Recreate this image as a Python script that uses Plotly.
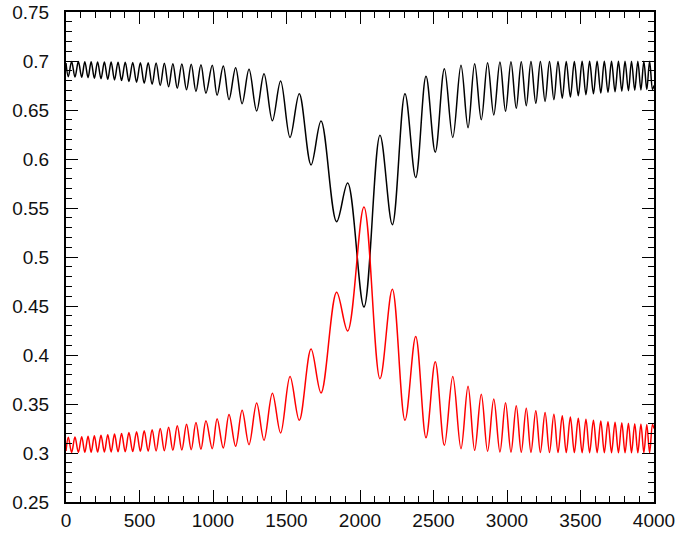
import plotly.graph_objects as go

# x positions of the extrema (alternating red-peak / red-trough)
x_ext = [0, 16, 38, 61, 84, 107, 128, 150, 171, 193, 215, 238, 261, 284, 307, 330, 354, 378, 403, 428,
         454, 480, 506, 532, 559, 586, 613, 641, 669, 698, 727, 757, 788, 820, 852, 884, 918, 952, 995, 1028,
         1070, 1109, 1154, 1198, 1245, 1297, 1347, 1404, 1460, 1524, 1587, 1667, 1735, 1841, 1916, 2027, 2136, 2220, 2306, 2379,
         2449, 2512, 2574, 2631, 2687, 2735, 2780, 2825, 2868, 2910, 2952, 2990, 3027, 3063, 3097, 3131, 3163, 3196, 3227, 3259,
         3289, 3319, 3347, 3376, 3403, 3431, 3458, 3485, 3511, 3537, 3562, 3588, 3613, 3638, 3662, 3687, 3711, 3735, 3758, 3781,
         3803, 3826, 3847, 3869, 3890, 3911, 3931, 3951, 3970, 3990, 4000]

red_y = [0.302, 0.316, 0.3005, 0.3163, 0.3006, 0.3166, 0.3007, 0.317, 0.3008, 0.3175, 0.3009, 0.318, 0.301, 0.3186, 0.3011, 0.3193, 0.3012, 0.32, 0.3013, 0.3208,
         0.3015, 0.3217, 0.3017, 0.3227, 0.3019, 0.3238, 0.3021, 0.325, 0.3024, 0.3263, 0.3027, 0.3277, 0.303, 0.3293, 0.3034, 0.331, 0.3039, 0.3328, 0.3044, 0.335,
         0.3051, 0.3394, 0.3068, 0.3435, 0.3085, 0.351, 0.313, 0.361, 0.3204, 0.378, 0.3333, 0.406, 0.3612, 0.464, 0.4245, 0.551, 0.3758, 0.467, 0.3333, 0.419,
         0.3156, 0.393, 0.3078, 0.378, 0.3044, 0.368, 0.3027, 0.36, 0.3017, 0.355, 0.301, 0.3513, 0.3008, 0.3483, 0.3007, 0.3456, 0.3006, 0.3432, 0.3005, 0.3412,
         0.3005, 0.3395, 0.3004, 0.338, 0.3004, 0.3367, 0.3004, 0.3355, 0.3003, 0.3344, 0.3003, 0.3335, 0.3003, 0.3327, 0.3003, 0.332, 0.3003, 0.3313, 0.3002, 0.3308,
         0.3002, 0.3303, 0.3002, 0.3299, 0.3002, 0.3295, 0.3002, 0.3292, 0.3002, 0.329, 0.325]

black_y = [0.698, 0.684, 0.6995, 0.6837, 0.6994, 0.6834, 0.6993, 0.683, 0.6992, 0.6825, 0.6991, 0.682, 0.699, 0.6814, 0.6989, 0.6807, 0.6988, 0.68, 0.6987, 0.6792,
           0.6985, 0.6783, 0.6983, 0.6773, 0.6981, 0.6762, 0.6979, 0.675, 0.6976, 0.6737, 0.6973, 0.6723, 0.697, 0.6707, 0.6966, 0.669, 0.6961, 0.6672, 0.6956, 0.665,
           0.6949, 0.6606, 0.6932, 0.6565, 0.6915, 0.649, 0.687, 0.639, 0.6796, 0.622, 0.6667, 0.594, 0.6388, 0.536, 0.5755, 0.449, 0.6242, 0.533, 0.6667, 0.581,
           0.6844, 0.607, 0.6922, 0.622, 0.6956, 0.632, 0.6973, 0.64, 0.6983, 0.645, 0.699, 0.6487, 0.6992, 0.6517, 0.6993, 0.6544, 0.6994, 0.6568, 0.6995, 0.6588,
           0.6995, 0.6605, 0.6996, 0.662, 0.6996, 0.6633, 0.6996, 0.6645, 0.6997, 0.6656, 0.6997, 0.6665, 0.6997, 0.6673, 0.6997, 0.668, 0.6997, 0.6687, 0.6998, 0.6692,
           0.6998, 0.6697, 0.6998, 0.6701, 0.6998, 0.6705, 0.6998, 0.6708, 0.6998, 0.671, 0.675]

x_tick_vals = [0, 500, 1000, 1500, 2000, 2500, 3000, 3500, 4000]
y_tick_vals = [0.25, 0.3, 0.35, 0.4, 0.45, 0.5, 0.55, 0.6, 0.65, 0.7, 0.75]
y_tick_text = ["0.25", "0.3", "0.35", "0.4", "0.45", "0.5", "0.55", "0.6", "0.65", "0.7", "0.75"]

assert len(x_ext) == len(red_y) == len(black_y)

fig = go.Figure()
fig.add_trace(go.Scatter(x=x_ext, y=black_y, mode="lines",
                         line=dict(color="black", width=1.5, shape="spline", smoothing=1.0),
                         showlegend=False))
fig.add_trace(go.Scatter(x=x_ext, y=red_y, mode="lines",
                         line=dict(color="red", width=1.5, shape="spline", smoothing=1.0),
                         showlegend=False))

axis_common = dict(showgrid=False, zeroline=False, showline=True, linecolor="black", linewidth=2,
                   mirror="allticks", ticks="inside", ticklen=12, tickwidth=1.3, tickcolor="black",
                   automargin=False,
                   tickfont=dict(family="Liberation Sans, Arial, sans-serif", size=19, color="#111"))

fig.update_xaxes(range=[0, 4000], tickvals=x_tick_vals, ticktext=[str(v) for v in x_tick_vals],
                 minor=dict(ticks="inside", ticklen=6, tickwidth=1.3, tickcolor="black", dtick=100, tick0=0),
                 ticklabelstandoff=0, **axis_common)
fig.update_yaxes(range=[0.25, 0.75], tickvals=y_tick_vals, ticktext=y_tick_text,
                 minor=dict(ticks="inside", ticklen=6, tickwidth=1.3, tickcolor="black", dtick=0.01, tick0=0.25),
                 ticklabelstandoff=11, **axis_common)

fig.update_layout(width=676, height=533, margin=dict(l=66, r=22, t=12, b=31),
                  plot_bgcolor="white", paper_bgcolor="white")

fig.write_html("out.html", config={"displayModeBar": False},
               post_script="document.body.style.margin='0';document.body.style.padding='0';")
